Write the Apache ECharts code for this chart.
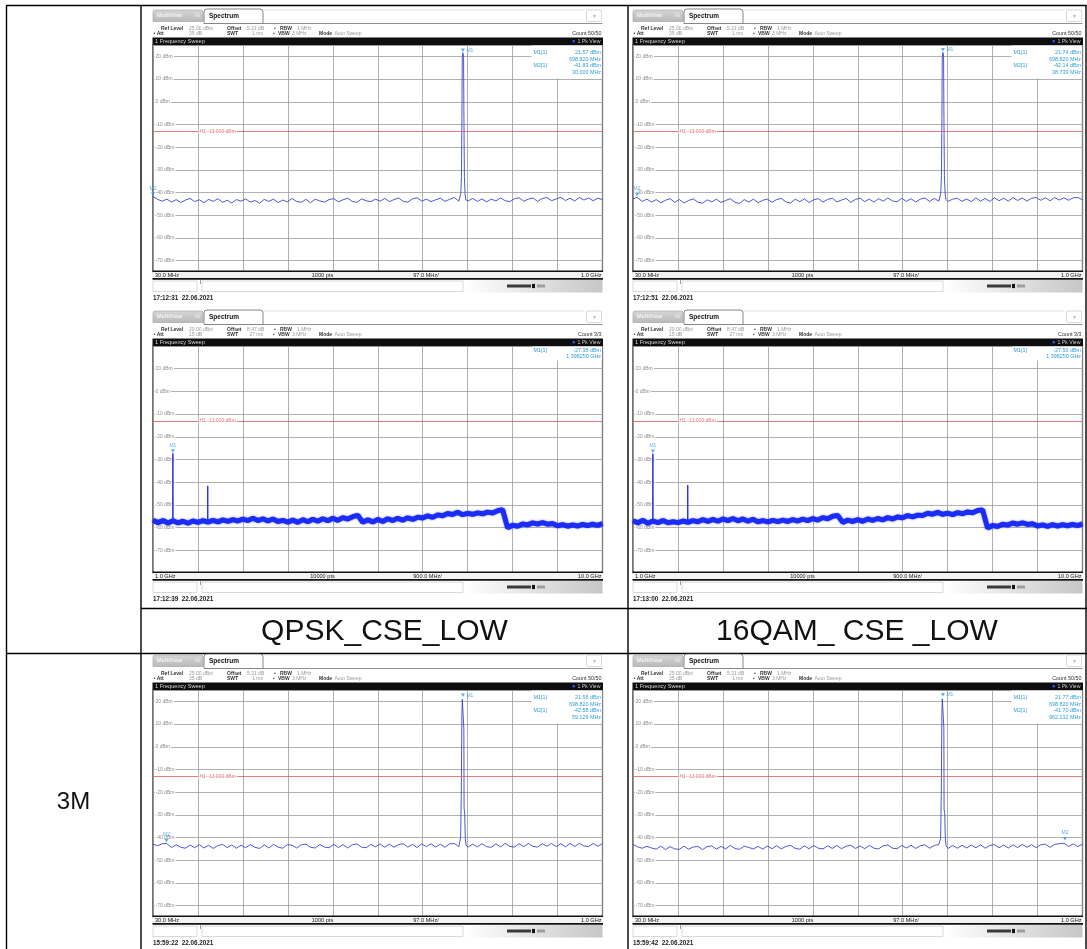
<!DOCTYPE html>
<html>
<head>
<meta charset="utf-8">
<script src="https://cdn.jsdelivr.net/npm/echarts@6/dist/echarts.min.js"></script>
<style>
html,body{margin:0;padding:0;background:#fff}
#chart{width:1087px;height:949px}
</style>
</head>
<body>
<div id="chart"></div>
<script>
// ---------------- data ----------------
const COLUMN_TITLES = ['QPSK_CSE_LOW', '16QAM_ CSE _LOW'];
const ROW_TITLES = ['', '3M'];
const TIMESTAMPS = ['17:12:31  22.06.2021', '17:12:39  22.06.2021', '17:12:51  22.06.2021',
                    '17:13:00  22.06.2021', '15:59:22  22.06.2021', '15:59:42  22.06.2021'];

// sweep definitions: start MHz, stop MHz, spacing of the listed trace values (MHz)
const LOW_SWEEP = [30, 1000, 10];
const HIGH_SWEEP = [1000, 10000, 100];
const LOW_Y_RANGE = [-75, 25];
const HIGH_Y_RANGE = [-80, 20];
const H1_LIMIT = -13;

// header / footer texts of the two sweep setups
const LOW_HEADER = ['25.00 dBm', '5.21 dB', '35 dB', '1 ms', 'Count 50/50'];
const HIGH_HEADER = ['20.00 dBm', '8.47 dB', '15 dB', '27 ms', 'Count 3/3'];
const LOW_FOOTER = ['30.0 MHz', '1000 pts', '97.0 MHz/', '1.0 GHz'];
const HIGH_FOOTER = ['1.0 GHz', '10000 pts', '900.0 MHz/', '10.0 GHz'];

// 30 MHz .. 1 GHz noise floor (dBm), every 10 MHz
const QPSK_LOW_NOISE = [
  -41.9,-43.0,-43.8,-42.9,-44.2,-43.1,-44.4,-43.3,-42.6,-44.0,
  -43.2,-44.5,-43.0,-43.9,-42.7,-44.3,-43.4,-44.6,-43.1,-43.8,
  -42.8,-44.2,-43.5,-44.7,-43.0,-43.9,-42.9,-44.4,-43.3,-44.1,
  -42.6,-43.9,-44.3,-43.0,-44.5,-42.9,-43.7,-44.2,-43.1,-42.7,
  -44.1,-43.2,-42.5,-43.9,-44.3,-42.8,-43.6,-44.0,-42.9,-43.8,
  -42.6,-44.0,-43.1,-42.4,-43.9,-44.2,-42.8,-42.3,-43.8,-42.9,
  -44.0,-43.2,-42.5,-43.9,-43.0,-42.2,-43.8,-42.7,-43.7,-42.6,
  -43.9,-42.8,-44.1,-42.9,-43.7,-42.4,-43.6,-44.0,-42.7,-42.3,
  -43.8,-42.9,-42.4,-43.9,-42.6,-42.2,-43.6,-42.8,-42.1,-43.5,
  -42.5,-43.7,-42.2,-43.3,-42.4,-43.6,-42.5,-43.1
];
const QAM_LOW_NOISE = [
  -42.8,-42.4,-43.9,-42.9,-44.2,-43.1,-44.5,-43.4,-42.7,-44.3,
  -43.1,-44.6,-43.5,-42.8,-44.2,-44.7,-43.2,-44.1,-42.9,-44.4,
  -43.5,-42.7,-44.3,-44.8,-43.1,-44.2,-42.9,-44.5,-43.4,-42.9,
  -44.3,-43.1,-42.6,-44.1,-44.6,-42.9,-44.0,-42.8,-44.4,-43.2,
  -42.7,-44.2,-43.0,-42.5,-44.1,-43.3,-42.6,-44.3,-43.0,-42.5,
  -44.0,-42.9,-44.2,-42.7,-43.8,-42.4,-43.7,-44.1,-42.5,-43.9,
  -42.7,-44.2,-42.9,-42.4,-43.9,-42.6,-43.8,-42.8,-43.9,-42.9,
  -42.5,-43.9,-42.8,-44.0,-42.4,-43.8,-42.6,-43.9,-42.3,-43.6,
  -42.5,-43.8,-42.2,-43.5,-42.4,-43.8,-42.5,-42.2,-43.4,-42.3,
  -43.6,-42.2,-43.3,-42.3,-43.4,-42.3,-42.2,-43.2
];
const QPSK_3M_NOISE = [
  -42.9,-43.6,-42.7,-44.1,-44.4,-43.2,-44.3,-44.7,-43.3,-44.5,
  -43.1,-44.6,-43.4,-44.8,-43.5,-43.0,-44.4,-43.3,-44.7,-43.4,
  -44.5,-43.1,-44.3,-44.8,-43.2,-44.6,-43.0,-44.2,-44.7,-43.1,
  -43.4,-44.6,-43.2,-42.9,-44.3,-44.6,-43.1,-44.2,-44.5,-43.0,
  -44.4,-43.1,-44.6,-43.2,-42.8,-44.2,-44.5,-43.0,-44.1,-42.8,
  -44.3,-42.9,-44.3,-43.1,-42.7,-44.2,-43.0,-44.4,-42.8,-44.0,
  -42.7,-44.2,-42.9,-44.3,-42.8,-42.6,-44.0,-42.8,-44.2,-42.9,
  -44.1,-42.7,-44.0,-44.3,-42.8,-44.1,-42.6,-43.9,-44.2,-42.7,
  -44.0,-42.6,-43.9,-44.2,-42.7,-43.8,-42.6,-44.0,-42.7,-44.1,
  -42.6,-43.9,-42.6,-43.7,-44.0,-42.6,-43.8,-42.7
];
const QAM_3M_NOISE = [
  -43.0,-44.1,-44.7,-43.9,-44.6,-45.1,-43.8,-45.3,-44.0,-45.0,
  -45.2,-43.8,-45.1,-44.2,-43.9,-45.3,-44.0,-43.7,-45.1,-43.9,
  -45.0,-43.5,-44.8,-45.2,-43.8,-44.4,-45.0,-43.9,-45.1,-43.7,
  -44.9,-43.6,-45.0,-43.9,-43.4,-44.8,-45.1,-43.7,-44.9,-43.5,
  -44.7,-45.0,-43.6,-44.8,-43.5,-44.9,-43.8,-43.4,-44.8,-43.7,
  -44.9,-43.5,-44.7,-45.0,-43.6,-43.3,-44.7,-44.9,-43.5,-44.6,
  -43.4,-44.8,-43.6,-43.2,-44.7,-43.5,-43.1,-44.5,-44.8,-43.5,
  -44.7,-43.4,-44.6,-43.3,-44.5,-43.2,-44.7,-43.5,-43.1,-44.5,
  -43.3,-44.6,-43.2,-44.4,-43.0,-44.3,-43.1,-44.5,-43.2,-42.9,
  -44.3,-43.0,-42.7,-42.5,-43.9,-42.8,-44.0,-42.9
];

// carrier skirt around 698.82 MHz: [MHz, dBm] (the top is the M1 marker)
const QPSK_LOW_CARRIER = [[692.5,-43.4],[694.2,-40.5],[695.6,-33.0],[696.6,-8.0],[697.4,19.6],
                          [700.2,19.9],[701.0,-8.0],[702.0,-33.0],[703.4,-40.5],[705.0,-43.2]];
const QAM_LOW_CARRIER  = [[692.5,-43.2],[694.2,-40.2],[695.6,-32.5],[696.6,-7.5],[697.4,19.8],
                          [700.2,20.1],[701.0,-7.5],[702.0,-32.5],[703.4,-40.2],[705.0,-43.0]];
const QPSK_3M_CARRIER  = [[692.0,-43.6],[693.8,-40.0],[695.2,-22.0],[696.6,14.0],[697.5,20.9],
                          [700.1,20.8],[700.8,8.0],[701.3,-27.0],[702.6,-29.5],[704.0,-40.5],[705.6,-43.4]];
const QAM_3M_CARRIER   = [[692.0,-43.8],[693.8,-40.3],[695.2,-21.5],[696.6,14.5],[697.5,21.1],
                          [700.1,21.0],[700.8,8.5],[701.3,-27.5],[702.6,-29.0],[704.0,-40.2],[705.6,-43.6]];

// 1 GHz .. 10 GHz noise band (dBm), every 100 MHz
const QPSK_HIGH_TRACE = [
  -56.8,-57.8,-56.9,-58.0,-57.0,-57.9,-57.2,-58.1,-57.1,-57.7,
  -56.9,-57.6,-56.8,-57.5,-56.6,-57.3,-56.5,-57.1,-56.3,-56.9,
  -55.9,-56.9,-56.1,-57.1,-56.2,-57.3,-56.8,-57.6,-56.7,-57.7,
  -56.5,-57.4,-56.3,-57.2,-56.1,-57.0,-55.9,-56.8,-55.6,-56.2,
  -55.2,-54.6,-57.6,-56.6,-57.5,-56.4,-57.3,-56.1,-56.9,-55.9,
  -56.7,-55.7,-56.4,-55.4,-55.8,-54.8,-55.5,-54.4,-54.8,-53.8,
  -54.2,-53.2,-54.3,-53.7,-54.2,-53.5,-53.9,-53.2,-53.6,-52.6,
  -52.1,-60.1,-59.0,-59.4,-58.4,-58.8,-57.9,-58.4,-57.8,-58.5,
  -58.2,-59.2,-58.7,-59.4,-58.8,-59.3,-58.6,-59.1,-58.5,-59.0,
  -58.3
];
const QAM_HIGH_TRACE = [
  -57.0,-57.9,-56.8,-58.1,-57.1,-57.8,-56.9,-57.9,-57.4,-57.8,
  -57.1,-57.7,-56.9,-57.4,-56.5,-57.3,-56.4,-57.2,-56.2,-56.9,
  -56.0,-57.0,-56.2,-57.2,-56.3,-57.4,-56.9,-57.5,-56.8,-57.4,
  -56.7,-57.3,-56.5,-57.1,-56.3,-56.9,-56.0,-56.7,-55.6,-56.1,
  -55.0,-54.7,-57.7,-56.7,-57.3,-56.5,-57.2,-56.2,-56.8,-56.0,
  -56.6,-55.6,-56.2,-55.3,-55.7,-54.7,-55.3,-54.5,-54.7,-53.7,
  -54.1,-53.3,-54.2,-53.6,-54.3,-53.4,-53.9,-53.1,-53.5,-52.5,
  -52.2,-60.2,-59.1,-59.5,-58.5,-58.9,-58.0,-58.5,-57.9,-58.6,
  -58.3,-59.3,-58.8,-59.5,-58.7,-59.4,-58.7,-59.2,-58.6,-59.1,
  -58.4
];
// harmonics above the band: [MHz, dBm]
const QPSK_HIGH_SPURS = [[2096.5, -41.6]];
const QAM_HIGH_SPURS = [[2096.5, -41.3]];

// markers: [name, MHz, dBm]
const QPSK_LOW_MARKERS = [['M1', 698.820, 21.57], ['M2', 30.000, -41.83]];
const QPSK_HIGH_MARKERS = [['M1', 1398.250, -27.38]];
const QAM_LOW_MARKERS = [['M1', 698.820, 21.74], ['M2', 38.739, -42.14]];
const QAM_HIGH_MARKERS = [['M1', 1398.250, -27.50]];
const QPSK_3M_MARKERS = [['M1', 698.820, 21.56], ['M2', 59.129, -42.58]];
const QAM_3M_MARKERS = [['M1', 698.820, 21.77], ['M2', 962.132, -41.70]];

// ---------------- layout ----------------
const FONT = '"Liberation Sans", Arial, sans-serif';
const PW = 449.5;             // plot width
const COL_X = [153, 633];     // left frame of the screenshots in each column
const ROW_BASE = [0, 301, 645];
const TRACE_BLUE = '#3a43d4';
const BAND_BLUE = '#1a2cf5';
const MARK_BLUE = '#2f9fd8';
const LIMIT_RED = '#d95c5c';
const GRID_GREY = '#9c9c9c';

const panels = [
  {x: COL_X[0], base: ROW_BASE[0], band: 'low', noise: QPSK_LOW_NOISE, carrier: QPSK_LOW_CARRIER, markers: QPSK_LOW_MARKERS, time: TIMESTAMPS[0]},
  {x: COL_X[0], base: ROW_BASE[1], band: 'high', trace: QPSK_HIGH_TRACE, spurs: QPSK_HIGH_SPURS, markers: QPSK_HIGH_MARKERS, time: TIMESTAMPS[1]},
  {x: COL_X[1], base: ROW_BASE[0], band: 'low', noise: QAM_LOW_NOISE, carrier: QAM_LOW_CARRIER, markers: QAM_LOW_MARKERS, time: TIMESTAMPS[2]},
  {x: COL_X[1], base: ROW_BASE[1], band: 'high', trace: QAM_HIGH_TRACE, spurs: QAM_HIGH_SPURS, markers: QAM_HIGH_MARKERS, time: TIMESTAMPS[3]},
  {x: COL_X[0], base: ROW_BASE[2], band: 'low', noise: QPSK_3M_NOISE, carrier: QPSK_3M_CARRIER, markers: QPSK_3M_MARKERS, time: TIMESTAMPS[4]},
  {x: COL_X[1], base: ROW_BASE[2], band: 'low', noise: QAM_3M_NOISE, carrier: QAM_3M_CARRIER, markers: QAM_3M_MARKERS, time: TIMESTAMPS[5]}
];

// ---------------- graphic helpers ----------------
const G = [];
function txt(x, y, s, font, fill, align, z) {
  G.push({type: 'text', x: x, y: y, z: z || 110, silent: true,
    style: {text: s, font: font, fill: fill, textAlign: align || 'left', textVerticalAlign: 'middle',
            align: align || 'left', verticalAlign: 'middle'}});
}
function rect(x, y, w, h, fill, stroke, lw, z, r) {
  G.push({type: 'rect', z: z || 100, silent: true,
    shape: {x: x, y: y, width: w, height: h, r: r || 0},
    style: {fill: fill || 'none', stroke: stroke || 'none', lineWidth: lw || 0}});
}
function line(x1, y1, x2, y2, stroke, lw, z) {
  G.push({type: 'line', z: z || 100, silent: true,
    shape: {x1: x1, y1: y1, x2: x2, y2: y2}, style: {stroke: stroke, lineWidth: lw || 1}});
}
const f = (size, bold) => (bold ? 'bold ' : '') + size + 'px ' + FONT;

function fmtLevel(v) { return v.toFixed(2) + ' dBm'; }
function fmtFreq(mhz, band) { return band === 'low' ? mhz.toFixed(3) + ' MHz' : (mhz / 1000).toFixed(6) + ' GHz'; }

// analyzer window chrome around one plot
function chrome(p) {
  const X = p.x, B = p.base, W = PW;
  const hdr = p.band === 'low' ? LOW_HEADER : HIGH_HEADER;
  const ftr = p.band === 'low' ? LOW_FOOTER : HIGH_FOOTER;
  // tabs
  rect(X, B + 10, 50, 11.5, {type: 'linear', x: 0, y: 0, x2: 0, y2: 1,
    colorStops: [{offset: 0, color: '#d6d6d6'}, {offset: 1, color: '#b9b9b9'}]}, '#9d9d9d', 0.6, 100, [2, 2, 0, 0]);
  txt(X + 4, B + 15.9, 'MultiView', f(5.5, true), '#f2f2f2');
  txt(X + 42, B + 15.9, '⊞', f(5.5), '#eeeeee');
  line(X + 110, B + 10, X + W - 18, B + 10, '#d2d2d2', 0.7);
  line(X + 110, B + 23.5, X + W, B + 23.5, '#777', 0.8);
  rect(X + 51, B + 9, 59, 14.5, '#ffffff', '#555', 0.7, 101, [3, 3, 0, 0]);
  txt(X + 56, B + 15.8, 'Spectrum', f(6.5, true), '#111');
  rect(X + W - 16, B + 10, 15, 11.5, '#ffffff', '#bdbdbd', 0.6, 100, 1);
  txt(X + W - 8.5, B + 16, '▾', f(6), '#bbbbbb', 'center');
  // settings lines
  let y = B + 28.6;
  txt(X + 8, y, 'Ref Level', f(5, true), '#333');
  txt(X + 36, y, hdr[0], f(5), '#9a9a9a');
  txt(X + 74, y, 'Offset', f(5, true), '#333');
  txt(X + 94, y, hdr[1], f(5), '#9a9a9a');
  txt(X + 121, y, '•', f(5), '#333');
  txt(X + 127, y, 'RBW', f(5, true), '#333');
  txt(X + 144, y, '1 MHz', f(5), '#9a9a9a');
  y = B + 33.9;
  txt(X + 0.5, y, '• Att', f(5, true), '#333');
  txt(X + 49, y, hdr[2], f(5), '#9a9a9a', 'right');
  txt(X + 74, y, 'SWT', f(5, true), '#333');
  txt(X + 110, y, hdr[3], f(5), '#9a9a9a', 'right');
  txt(X + 120, y, '•', f(5), '#333');
  txt(X + 125, y, 'VBW', f(5, true), '#333');
  txt(X + 139, y, '3 MHz', f(5), '#9a9a9a');
  txt(X + 166, y, 'Mode', f(5, true), '#333');
  txt(X + 181.5, y, 'Auto Sweep', f(5), '#9a9a9a');
  txt(X + W - 1, y, hdr[4], f(5.4), '#333', 'right');
  // window title bar
  rect(X - 0.5, B + 37.5, W + 1, 7.5, '#0e0e0e', null, 0, 102);
  txt(X + 2, B + 41.3, '1 Frequency Sweep', f(5.6), '#d8d8d8');
  rect(X + W - 30, B + 40, 2.4, 2.4, '#2a4cff', null, 0, 103);
  txt(X + W - 2, B + 41.3, '1 Pk View', f(5.2), '#c8c8c8', 'right');
  // marker table
  const low = p.band === 'low';
  const rowPitch = low ? 6.5 : 6;
  const firstRow = low ? B + 53 : B + 49.2;
  const boxBottom = low ? B + 78.5 : firstRow + rowPitch + 4.2;
  rect(X + W - 71, B + 45.6, 70.2, boxBottom - (B + 45.6), '#ffffff', null, 0, 104);
  p.markers.forEach((m, k) => {
    const ry = firstRow + rowPitch * 2 * k;
    txt(X + W - 69, ry, m[0] + '[1]', f(5.4), MARK_BLUE);
    txt(X + W - 1.5, ry, fmtLevel(m[2]), f(5.4), MARK_BLUE, 'right');
    txt(X + W - 1.5, ry + rowPitch, fmtFreq(m[1], p.band), f(5.4), MARK_BLUE, 'right');
  });
  // footer scale bar
  rect(X - 0.5, B + 271, W + 1, 8, '#f3f3f3', null, 0, 102);
  line(X - 0.5, B + 271.3, X + W + 0.5, B + 271.3, '#111', 1.6, 103);
  line(X - 0.5, B + 278.9, X + W + 0.5, B + 278.9, '#111', 1.6, 103);
  txt(X + 2, B + 275, ftr[0], f(5.6), '#222');
  txt(X + W * 0.377, B + 275, ftr[1], f(5.6), '#222', 'center');
  txt(X + W * 0.579, B + 275, ftr[2], f(5.6), '#222');
  txt(X + W - 1, B + 275, ftr[3], f(5.6), '#222', 'right');
  // status bar
  rect(X, B + 281, 44, 10.5, '#ffffff', '#c9c9c9', 0.7);
  rect(X + 49, B + 281, 261, 10.5, '#ffffff', '#c9c9c9', 0.7);
  line(X + 47.5, B + 280, X + 47.5, B + 284, '#888', 0.8);
  rect(X + 312, B + 280, W - 312, 12.5, {type: 'linear', x: 0, y: 0, x2: 1, y2: 1,
    colorStops: [{offset: 0, color: '#ffffff'}, {offset: 1, color: '#c6c6c6'}]});
  rect(X + 354, B + 284.5, 24, 3, '#3a3a3a', null, 0, 101);
  rect(X + 379, B + 283.9, 3, 4.2, '#111', null, 0, 101);
  rect(X + 384, B + 284.5, 8, 3, '#9d9d9d', null, 0, 101);
  rect(X + 394, B + 284.5, 6, 3, '#dcdcdc', null, 0, 101);
  // time stamp
  txt(X, B + 297.8, p.time, f(6.3, true), '#222');
}

// ---------------- traces ----------------
function lowTrace(p) {
  const pts = [];
  const c0 = p.carrier[0][0], c1 = p.carrier[p.carrier.length - 1][0];
  p.noise.forEach((v, i) => {
    const fr = LOW_SWEEP[0] + i * LOW_SWEEP[2];
    if (fr > c0 && fr < c1) return;
    if (p.markers.some(m => Math.abs(m[1] - fr) < 2)) return;
    pts.push([fr, v]);
  });
  p.carrier.forEach(c => pts.push(c));
  p.markers.forEach(m => pts.push([m[1], m[2]]));
  pts.sort((a, b) => a[0] - b[0]);
  return pts.map(q => [q[0] - LOW_SWEEP[0], q[1]]);
}
function highTrace(p) {
  return p.trace.map((v, i) => [i * HIGH_SWEEP[2], v]);
}
function bandLevelAt(p, mhz) {
  const i = Math.round((mhz - HIGH_SWEEP[0]) / HIGH_SWEEP[2]);
  return p.trace[Math.max(0, Math.min(p.trace.length - 1, i))];
}

const grids = [], xAxes = [], yAxes = [], series = [];
panels.forEach((p, i) => {
  const low = p.band === 'low';
  const sweep = low ? LOW_SWEEP : HIGH_SWEEP;
  const span = sweep[1] - sweep[0];
  const yr = low ? LOW_Y_RANGE : HIGH_Y_RANGE;
  grids.push({left: p.x, top: p.base + 45, width: PW, height: 227, show: true,
    backgroundColor: '#fff', borderColor: '#1a1a1a', borderWidth: 1.2});
  xAxes.push({type: 'value', gridIndex: i, min: 0, max: span, interval: span / 10,
    axisLine: {show: false}, axisTick: {show: false}, axisLabel: {show: false},
    splitLine: {show: true, lineStyle: {color: GRID_GREY, width: 0.8}}});
  yAxes.push({type: 'value', gridIndex: i, min: yr[0], max: yr[1], splitNumber: 10,
    axisLine: {show: false}, axisTick: {show: false},
    axisLabel: {inside: true, margin: 1.5, fontSize: 5, fontFamily: FONT, color: '#8d8d8d',
      backgroundColor: '#fff', padding: [0, 1], showMinLabel: false, showMaxLabel: false,
      formatter: v => v + ' dBm'},
    splitLine: {show: true, lineStyle: {color: GRID_GREY, width: 0.8}}});

  const limitLine = {silent: true, symbol: 'none', animation: false,
    lineStyle: {color: LIMIT_RED, width: 0.8, type: 'solid'}, label: {show: false},
    data: [{yAxis: H1_LIMIT}]};

  if (low) {
    series.push({type: 'line', xAxisIndex: i, yAxisIndex: i, data: lowTrace(p), showSymbol: false,
      symbol: 'none', lineStyle: {color: TRACE_BLUE, width: 0.9}, z: 3, markLine: limitLine});
  } else {
    series.push({type: 'line', xAxisIndex: i, yAxisIndex: i, data: highTrace(p), showSymbol: false,
      symbol: 'none', lineStyle: {color: BAND_BLUE, width: 5, shadowColor: 'rgba(30,50,255,0.7)', shadowBlur: 2},
      z: 3, markLine: limitLine});
    const spikes = p.markers.map(m => [m[1], m[2]]).concat(p.spurs);
    spikes.forEach(s => {
      const base = bandLevelAt(p, s[0]);
      const x0 = s[0] - HIGH_SWEEP[0];
      series.push({type: 'line', xAxisIndex: i, yAxisIndex: i, showSymbol: false, symbol: 'none',
        data: [[x0 - 3, base], [x0, s[1]], [x0 + 3, base]],
        lineStyle: {color: BAND_BLUE, width: 1}, z: 4});
    });
  }
  // limit line label, one division in from the left edge
  series.push({type: 'scatter', xAxisIndex: i, yAxisIndex: i, symbolSize: 0, silent: true, z: 6,
    data: [[span / 10, H1_LIMIT]],
    label: {show: true, position: 'right', distance: 0.5, formatter: 'H1 ' + H1_LIMIT.toFixed(3) + ' dBm',
      fontSize: 5, fontFamily: FONT, color: LIMIT_RED, backgroundColor: '#fff', padding: [0, 1]}});
  // marker triangles
  series.push({type: 'scatter', xAxisIndex: i, yAxisIndex: i, symbol: 'triangle', symbolRotate: 180,
    symbolSize: [4, 3.5], symbolOffset: [0, -2.6], z: 7, silent: true, itemStyle: {color: MARK_BLUE},
    data: p.markers.map(m => ({name: m[0], value: [m[1] - sweep[0], m[2]],
      label: {show: true, formatter: m[0], fontSize: 5, fontFamily: FONT, color: MARK_BLUE,
        position: (low && m[0] === 'M1') ? 'right' : 'top', distance: 1.5}}))});
  chrome(p);
});

// ---------------- table frame and captions ----------------
line(6.5, 5.5, 6.5, 949, '#000', 1.4, 90);
line(141, 5.5, 141, 949, '#000', 1.4, 90);
line(628, 5.5, 628, 949, '#000', 1.4, 90);
line(1086, 5.5, 1086, 949, '#000', 1.4, 90);
line(6, 5.5, 1087, 5.5, '#000', 1.4, 90);
line(141, 608.5, 1087, 608.5, '#000', 1.4, 90);
line(6, 653.5, 1087, 653.5, '#000', 1.4, 90);
txt(384.5, 631.5, COLUMN_TITLES[0], '30px ' + FONT, '#111', 'center');
txt(857, 631.5, COLUMN_TITLES[1], '30px ' + FONT, '#111', 'center');
txt(73.5, 802, ROW_TITLES[1], '24px ' + FONT, '#111', 'center');

const chart = echarts.init(document.getElementById('chart'), null, {renderer: 'canvas'});
chart.setOption({
  animation: false,
  backgroundColor: '#ffffff',
  grid: grids,
  xAxis: xAxes,
  yAxis: yAxes,
  series: series,
  graphic: {elements: G}
});
</script>
</body>
</html>
